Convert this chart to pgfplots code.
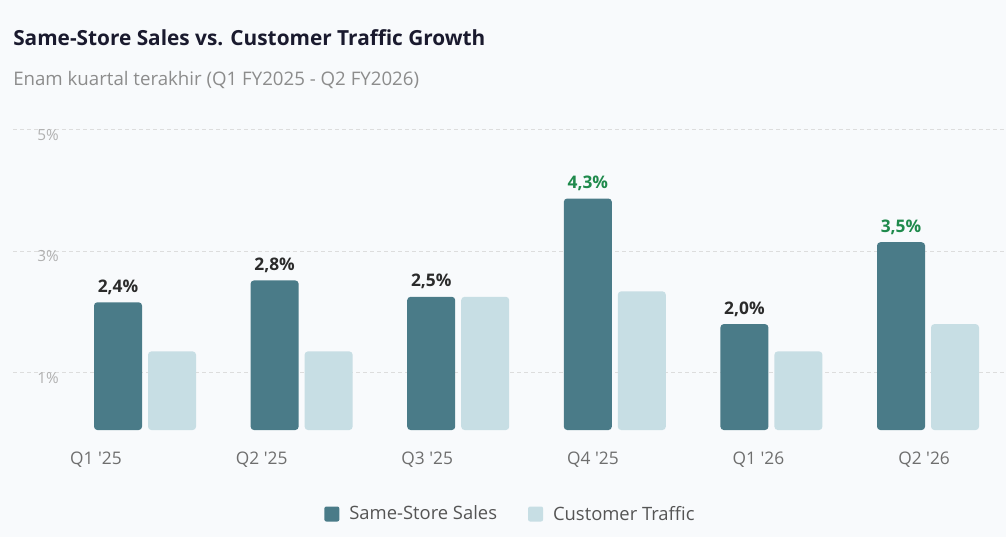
\documentclass[border=0pt]{standalone}
\usepackage{fontspec}
\setmainfont{Open Sans}[Ligatures=TeXOff]
\usepackage{pgfplots}
\pgfplotsset{compat=1.18}
\definecolor{bg}{HTML}{F8FAFC}
\definecolor{sss}{HTML}{4A7B88}
\definecolor{traf}{HTML}{C7DEE4}
\definecolor{titlec}{HTML}{1A1A2E}
\definecolor{subc}{HTML}{8C8C8C}
\definecolor{ytc}{HTML}{B0B0B0}
\definecolor{xtc}{HTML}{6E6E6E}
\definecolor{valc}{HTML}{2B2B2B}
\definecolor{upc}{HTML}{1F8A4C}
\definecolor{gridc}{HTML}{DDDDDD}
\definecolor{legc}{HTML}{555555}
\begin{document}
\begin{tikzpicture}
\path[use as bounding box, fill=bg] (0,0) rectangle (754.5pt,402.75pt);
\node[anchor=base west, inner sep=0pt, font=\fontsize{15.6}{18}\selectfont\bfseries, text=titlec] at (9.75pt,368.25pt) {Same-Store Sales vs. Customer Traffic Growth};
\node[anchor=base west, inner sep=0pt, font=\fontsize{14}{16}\selectfont, text=subc] at (9.75pt,338.8pt) {Enam kuartal terakhir (Q1 FY2025 - Q2 FY2026)};
\begin{axis}[
  at={(9.75pt,80.25pt)}, anchor=south west,
  scale only axis, width=744.75pt, height=225pt,
  xmin=-0.843, xmax=5.498, ymin=0.06, ymax=5.556,
  axis line style={draw=none},
  major tick length=0pt,
  ytick={1.111,3.333,5.556}, yticklabels={1\%,3\%,5\%},
  yticklabel style={anchor=east, inner sep=0pt, xshift=34.5pt, yshift=-3.75pt, text=ytc, font=\fontsize{11.5}{13}\selectfont},
  xtick={-0.313,0.745,1.802,2.860,3.917,4.975},
  xticklabels={Q1 '25,Q2 '25,Q3 '25,Q4 '25,Q1 '26,Q2 '26},
  xticklabel style={anchor=center, inner sep=0pt, yshift=-22.5pt, text=xtc, font=\fontsize{13}{15}\selectfont},
  ymajorgrids, grid style={gridc, dash pattern=on 3pt off 2.25pt, line width=0.75pt},
  legend style={at={(0.5,0)}, anchor=center, yshift=-63pt, draw=none, fill=none,
    legend columns=2, /tikz/every even column/.append style={column sep=23.25pt},
    font=\fontsize{13.8}{16}\selectfont, text=legc, nodes={inner sep=0pt}},
  legend cell align=left,
]
\addplot[ybar, bar width=36pt, bar shift=-20.25pt, fill=sss, draw=none, rounded corners=2.5pt,
  point meta=explicit symbolic, nodes near coords=\pgfplotspointmeta,
  every node near coord/.append style={anchor=center, xshift=-20.25pt, yshift=11.25pt, inner sep=0pt, text=valc, font=\fontsize{13}{15}\selectfont\bfseries},
  legend image code/.code={\fill[sss, rounded corners=1.5pt] (0pt,-5.625pt) rectangle (11.25pt,5.625pt); \path (18.75pt,0pt);}]
  coordinates {(0,2.4)[2,4\%] (1,2.8)[2,8\%] (2,2.5)[2,5\%] (3,4.3)[\textcolor{upc}{4,3\%}] (4,2.0)[2,0\%] (5,3.5)[\textcolor{upc}{3,5\%}]};
\addlegendentry{Same-Store Sales}
\addplot[ybar, bar width=36pt, bar shift=20.25pt, fill=traf, draw=none, rounded corners=2.5pt,
  legend image code/.code={\fill[traf, rounded corners=1.5pt] (0pt,-5.625pt) rectangle (11.25pt,5.625pt); \path (18.75pt,0pt);}]
  coordinates {(0,1.5) (1,1.5) (2,2.5) (3,2.6) (4,1.5) (5,2.0)};
\addlegendentry{Customer Traffic}
\end{axis}
\end{tikzpicture}
\end{document}
